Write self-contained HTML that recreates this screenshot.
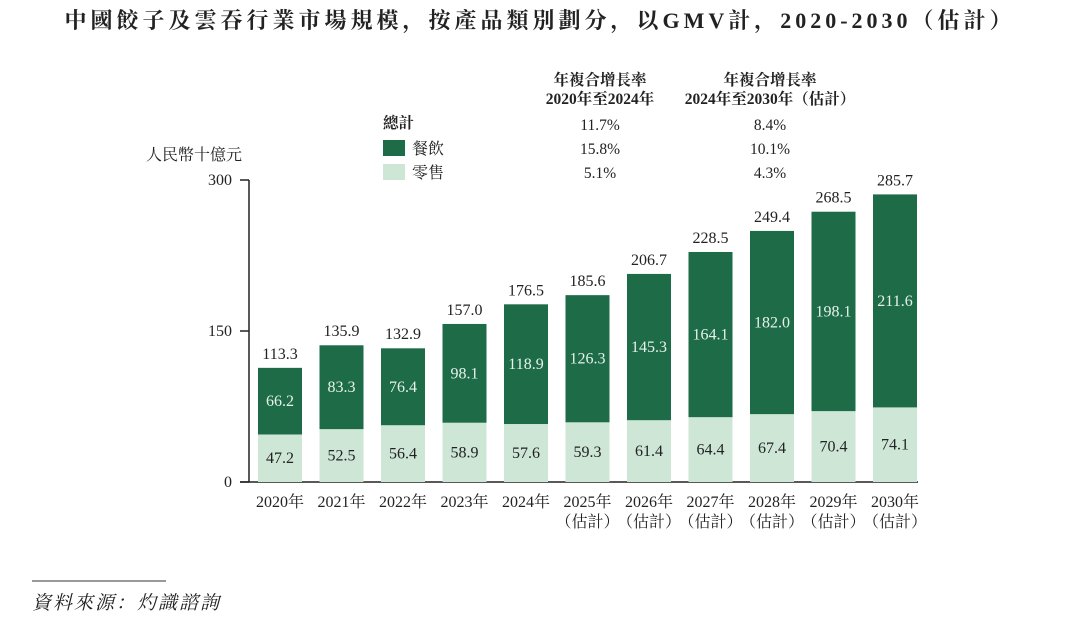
<!DOCTYPE html>
<html><head><meta charset="utf-8">
<style>
body{margin:0;background:#fff;width:1080px;height:625px;overflow:hidden;font-family:"Liberation Serif","Noto Serif CJK SC",serif;}
svg text{font-family:"Liberation Serif","Noto Serif CJK SC",serif;}
</style></head><body>
<svg id="chart" width="1080" height="625" viewBox="0 0 1080 625">
<text x="540" y="28" text-anchor="middle" font-size="22" font-weight="bold" letter-spacing="4" fill="#222">中國餃子及雲吞行業市場規模，按產品類別劃分，以GMV計，2020-2030（估計）</text>
<g font-size="15.5" fill="#222">
<text x="600" y="85" text-anchor="middle" font-weight="bold">年複合增長率</text>
<text x="600" y="104" text-anchor="middle" font-weight="bold">2020年至2024年</text>
<text x="770" y="85" text-anchor="middle" font-weight="bold">年複合增長率</text>
<text x="770" y="104" text-anchor="middle" font-weight="bold">2024年至2030年（估計）</text>
<text x="383" y="128" font-weight="bold">總計</text>
<text x="600" y="130" text-anchor="middle">11.7%</text>
<text x="770" y="130" text-anchor="middle">8.4%</text>
<text x="600" y="154" text-anchor="middle">15.8%</text>
<text x="770" y="154" text-anchor="middle">10.1%</text>
<text x="600" y="178" text-anchor="middle">5.1%</text>
<text x="770" y="178" text-anchor="middle">4.3%</text>
</g>
<g font-size="16" fill="#222">
<rect x="383" y="140" width="22" height="16" fill="#1e6b47"/>
<text x="412" y="154">餐飲</text>
<rect x="383" y="164" width="22" height="16" fill="#cde6d6"/>
<text x="412" y="178">零售</text>
</g>
<text x="146" y="160" font-size="16" fill="#222">人民幣十億元</text>
<g id="axes"></g>
<g id="bars"></g>
<line x1="32" y1="581" x2="166" y2="581" stroke="#333" stroke-width="1"/>
<text x="32" y="609" font-size="19" letter-spacing="2" font-style="italic" fill="#222">資料來源：灼識諮詢</text>
</svg>
<script>
const categories=["2020年","2021年","2022年","2023年","2024年","2025年","2026年","2027年","2028年","2029年","2030年"];
const estimated=[false,false,false,false,false,true,true,true,true,true,true];
const retail=[47.2,52.5,56.4,58.9,57.6,59.3,61.4,64.4,67.4,70.4,74.1];
const dining=[66.2,83.3,76.4,98.1,118.9,126.3,145.3,164.1,182.0,198.1,211.6];
const totals=[113.3,135.9,132.9,157.0,176.5,185.6,206.7,228.5,249.4,268.5,285.7];
const yTicks=[0,150,300];
const NS="http://www.w3.org/2000/svg";
const y0=482, pxPer=302/300, x0=258, step=61.5, bw=44;
const yS=v=>y0-v*pxPer;
const xS=i=>x0+i*step;
function mk(tag,attrs,parent,txt){const e=document.createElementNS(NS,tag);for(const k in attrs)e.setAttribute(k,attrs[k]);if(txt!==undefined)e.textContent=txt;parent.appendChild(e);return e;}
const ax=document.getElementById('axes');
let l=mk('line',{x1:249,y1:yS(300),x2:249,y2:y0,stroke:'#222','stroke-width':1.5},ax);


l=mk('line',{x1:240,y1:y0,x2:918,y2:y0,stroke:'#222','stroke-width':1.5},ax);


yTicks.forEach(t=>{
  const tk=mk('line',{x1:240,y1:yS(t),x2:249,y2:yS(t),stroke:'#222','stroke-width':1.5},ax);
  
  
  const tl=mk('text',{x:232,y:yS(t)+5,'text-anchor':'end','font-size':16,fill:'#222'},ax,String(t));
  
  
});
const bg=document.getElementById('bars');
categories.forEach((c,i)=>{
  const x=xS(i), cx=x+bw/2;
  const r=mk('rect',{x:x,y:yS(retail[i]),width:bw,height:retail[i]*pxPer,fill:'#cde6d6'},bg);
  
  
  const d=mk('rect',{x:x,y:yS(retail[i]+dining[i]),width:bw,height:dining[i]*pxPer,fill:'#1e6b47'},bg);
  
  
  const rl=mk('text',{x:cx,y:yS(retail[i]/2)+5,'text-anchor':'middle','font-size':16,fill:'#222'},bg,retail[i].toFixed(1));
  
  
  const dl=mk('text',{x:cx,y:yS(retail[i]+dining[i]/2)+5,'text-anchor':'middle','font-size':16,fill:'#e6f2ea'},bg,dining[i].toFixed(1));
  
  
  const tl=mk('text',{x:cx,y:yS(totals[i])-9,'text-anchor':'middle','font-size':16,fill:'#222'},bg,totals[i].toFixed(1));
  
  
  const xl=mk('text',{x:cx,y:507,'text-anchor':'middle','font-size':16,fill:'#222'},bg,c);
  
  
  if(estimated[i]){
    const el=mk('text',{x:cx,y:527,'text-anchor':'middle','font-size':16,fill:'#222'},bg,'（估計）');
    
    
  }
});
</script>
</body></html>
